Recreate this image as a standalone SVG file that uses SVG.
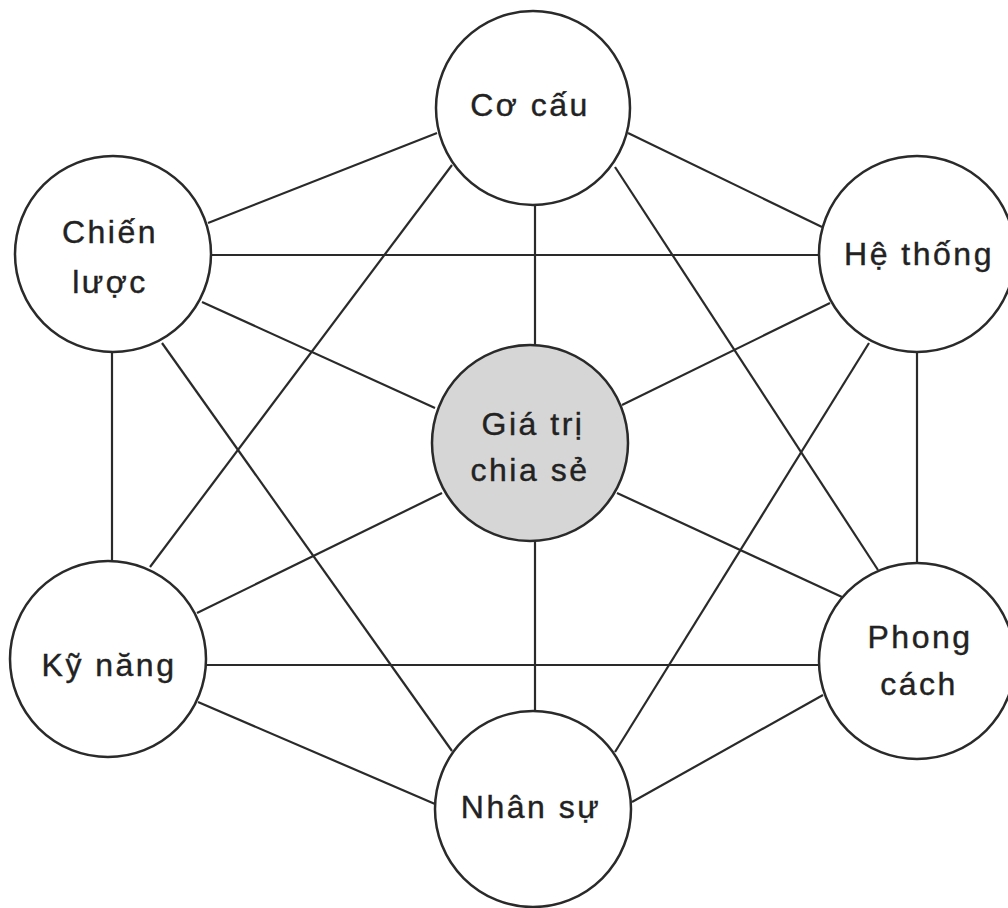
<svg xmlns="http://www.w3.org/2000/svg" width="1008" height="908" viewBox="0 0 1008 908">
<style>
.n{fill:#fff;stroke:#2a2a2a;stroke-width:2.5}
.c{fill:#d6d6d6}
.e line{stroke:#2a2a2a;stroke-width:2.2}
text{font-family:"Liberation Sans",Arial,sans-serif;font-size:32px;fill:#222;stroke:#222;stroke-width:0.4;text-anchor:middle;letter-spacing:2.5px}
</style>
<rect width="1008" height="908" fill="#fff"/>
<g id="connectors" class="e">
<line x1="208" y1="223" x2="437" y2="133"/>
<line x1="628" y1="133" x2="822" y2="227"/>
<line x1="535" y1="200" x2="535" y2="347"/>
<line x1="452" y1="165" x2="150" y2="567"/>
<line x1="615" y1="167" x2="878" y2="570"/>
<line x1="210" y1="255" x2="821" y2="255"/>
<line x1="202" y1="302" x2="435" y2="408"/>
<line x1="112" y1="350" x2="112" y2="563"/>
<line x1="162" y1="343" x2="452" y2="751"/>
<line x1="830" y1="303" x2="622" y2="405"/>
<line x1="917" y1="350" x2="917" y2="565"/>
<line x1="869" y1="343" x2="615" y2="752"/>
<line x1="442" y1="493" x2="197" y2="613"/>
<line x1="617" y1="493" x2="842" y2="597"/>
<line x1="535" y1="540" x2="535" y2="713"/>
<line x1="204" y1="665" x2="821" y2="665"/>
<line x1="198" y1="702" x2="435" y2="804"/>
<line x1="823" y1="695" x2="632" y2="802"/>
</g>
<g id="co-cau"><circle class="n" cx="533" cy="108" r="97"/><text x="530" y="116">Cơ cấu</text></g>
<g id="chien-luoc"><circle class="n" cx="113" cy="254" r="98"/><text x="110" y="243">Chiến</text><text x="110" y="293">lược</text></g>
<g id="he-thong"><circle class="n" cx="917" cy="254" r="98"/><text x="919" y="265">Hệ thống</text></g>
<g id="gia-tri"><circle class="n c" cx="530" cy="443" r="98"/><text x="533" y="435">Giá trị</text><text x="530" y="481">chia sẻ</text></g>
<g id="ky-nang"><circle class="n" cx="108" cy="659" r="98"/><text x="109" y="676">Kỹ năng</text></g>
<g id="phong-cach"><circle class="n" cx="917" cy="661" r="98"/><text x="920" y="648">Phong</text><text x="919" y="695">cách</text></g>
<g id="nhan-su"><circle class="n" cx="533" cy="809" r="98"/><text x="531" y="818">Nhân sự</text></g>
</svg>
